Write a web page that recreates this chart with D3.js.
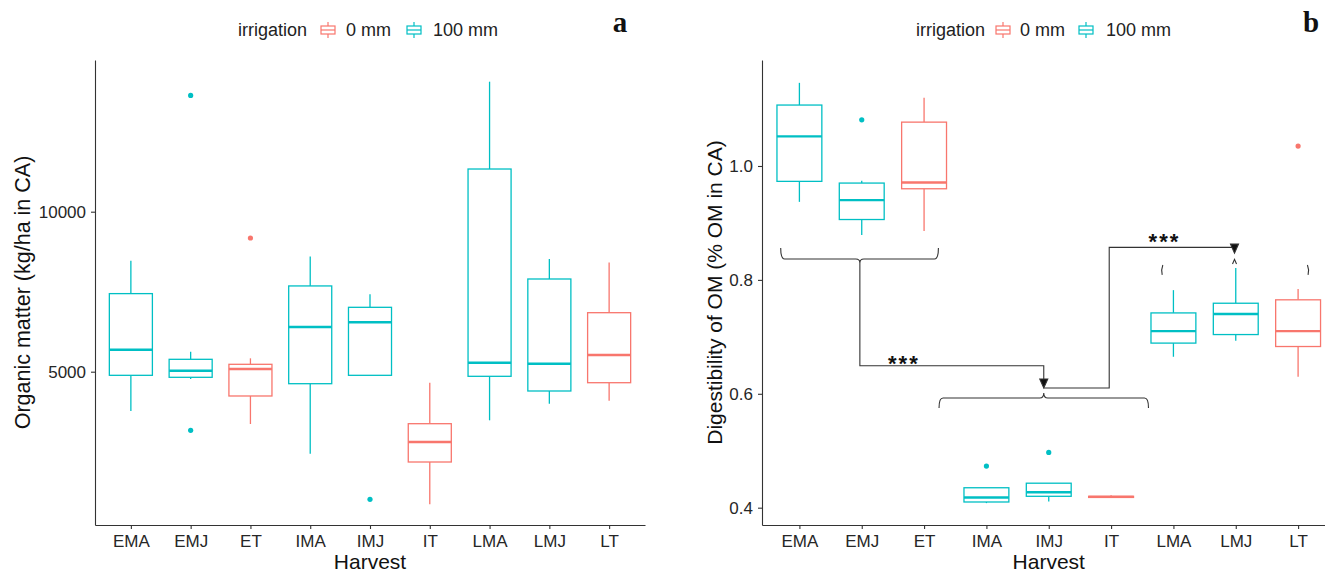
<!DOCTYPE html>
<html><head><meta charset="utf-8">
<script src="https://cdn.jsdelivr.net/npm/d3@7"></script>
<style>
body{margin:0;background:#fff}
svg{display:block}
text{font-family:"Liberation Sans",Arial,Helvetica,sans-serif}
</style>
</head><body>
<svg id="chart" width="1325" height="574"></svg>
<script>
// ---------- data ----------
const harvest = ["EMA","EMJ","ET","IMA","IMJ","IT","LMA","LMJ","LT"];
const irrigation = ["100 mm","100 mm","0 mm","100 mm","100 mm","0 mm","100 mm","100 mm","0 mm"];
const irrigationLevels = ["0 mm","100 mm"];

// panel a: Organic matter (kg/ha in CA)
const omLow  = [3772, 4772, 3366, 2438, 4887,  856, 3481, 4000, 4094];
const omQ1   = [4887, 4825, 4241, 4625, 4887, 2178, 4856, 4397, 4656];
const omMed  = [5688, 5031, 5084, 6397, 6543, 2803, 5281, 5250, 5522];
const omQ3   = [7440, 5387, 5231, 7680, 7012, 3375,11334, 7897, 6844];
const omHigh = [8469, 5625, 5418, 8603, 7420, 4656,14063, 8522, 8416];
const omOut  = [[], [13634, 3169], [9178], [], [1013], [], [], [], []];
const omTicks = [5000, 10000];

// panel b: Digestibility of OM (% OM in CA)
const dgLow  = [0.937, 0.879, 0.886, 0.408, 0.411, 0.418, 0.665, 0.693, 0.630];
const dgQ1   = [0.973, 0.906, 0.960, 0.410, 0.420, 0.418, 0.689, 0.704, 0.683];
const dgMed  = [1.052, 0.940, 0.971, 0.418, 0.427, 0.419, 0.710, 0.740, 0.710];
const dgQ3   = [1.107, 0.970, 1.077, 0.435, 0.443, 0.420, 0.742, 0.759, 0.765];
const dgHigh = [1.146, 0.974, 1.120, 0.435, 0.443, 0.422, 0.782, 0.821, 0.784];
const dgOut  = [[], [1.081], [], [0.473], [0.497], [], [], [], [1.035]];
const dgTicks = [0.4, 0.6, 0.8, 1.0];

// ---------- setup ----------
const svg = d3.select("#chart");
const color = d3.scaleOrdinal().domain(irrigationLevels).range(["#F8766D", "#00BFC4"]);
const axisCol = "#333";
const tickTextCol = "#262626";

function build(stats) {
  return harvest.map((h, i) => ({
    h, irr: irrigation[i],
    low: stats[0][i], q1: stats[1][i], med: stats[2][i], q3: stats[3][i], high: stats[4][i],
    out: stats[5][i]
  }));
}

function drawPanel(opt) {
  const g = svg.append("g");
  const x = d3.scalePoint().domain(harvest).range([opt.left, opt.right]).padding(0.6);
  const y = d3.scaleLinear().domain(opt.yDomain).range([opt.bottom, opt.top]);
  const bw = x.step() * 0.72;
  const data = build(opt.stats);

  const box = g.selectAll("g.box").data(data).join("g").attr("class", "box")
    .attr("stroke", d => color(d.irr)).attr("fill", "none");
  box.append("line").attr("x1", d => x(d.h)).attr("x2", d => x(d.h))
    .attr("y1", d => y(d.high)).attr("y2", d => y(d.q3)).attr("stroke-width", 1.3);
  box.append("line").attr("x1", d => x(d.h)).attr("x2", d => x(d.h))
    .attr("y1", d => y(d.q1)).attr("y2", d => y(d.low)).attr("stroke-width", 1.3);
  box.append("rect").attr("x", d => x(d.h) - bw / 2).attr("width", bw)
    .attr("y", d => y(d.q3)).attr("height", d => Math.max(0.1, y(d.q1) - y(d.q3)))
    .attr("fill", "#fff").attr("stroke-width", 1.3);
  box.append("line").attr("x1", d => x(d.h) - bw / 2).attr("x2", d => x(d.h) + bw / 2)
    .attr("y1", d => y(d.med)).attr("y2", d => y(d.med)).attr("stroke-width", 2.4);
  box.each(function(d) {
    d3.select(this).selectAll("circle").data(d.out).join("circle")
      .attr("cx", x(d.h)).attr("cy", v => y(v)).attr("r", 2.6)
      .attr("fill", color(d.irr)).attr("stroke", "none");
  });

  const xa = g.append("g").attr("transform", `translate(0,${opt.bottom})`)
    .call(d3.axisBottom(x).tickSize(4).tickSizeOuter(0).tickPadding(6));
  const ya = g.append("g").attr("transform", `translate(${opt.left},0)`)
    .call(d3.axisLeft(y).tickValues(opt.ticks).tickFormat(opt.fmt).tickSize(4).tickSizeOuter(0).tickPadding(5));
  [xa, ya].forEach(a => {
    a.select(".domain").attr("stroke", axisCol).attr("stroke-width", 1.1);
    a.selectAll(".tick line").attr("stroke", axisCol).attr("stroke-width", 1.1);
    a.selectAll(".tick text").attr("fill", tickTextCol).style("font-size", "17px")
      .style("font-family", '"Liberation Sans",Arial,sans-serif');
  });

  g.append("text").attr("x", (opt.left + opt.right) / 2).attr("y", 569)
    .attr("text-anchor", "middle").style("font-size", "21px").attr("fill", "#111").text("Harvest");
  g.append("text").attr("transform", `translate(${opt.yTitleX},${(opt.top + opt.bottom) / 2}) rotate(-90)`)
    .attr("text-anchor", "middle").style("font-size", opt.yTitleSize).attr("fill", "#111").text(opt.yTitle);

  const lg = g.append("g");
  lg.append("text").attr("x", opt.legX).attr("y", 30).attr("dominant-baseline", "central")
    .style("font-size", "18px").attr("fill", "#222").text("irrigation");
  irrigationLevels.forEach((lv, i) => {
    const kx = opt.legKeys[i], ky = 30, c = color(lv);
    const k = lg.append("g").attr("stroke", c).attr("fill", "none").attr("stroke-width", 1.2);
    k.append("line").attr("x1", kx).attr("x2", kx).attr("y1", ky - 8).attr("y2", ky - 4);
    k.append("line").attr("x1", kx).attr("x2", kx).attr("y1", ky + 4).attr("y2", ky + 8);
    k.append("rect").attr("x", kx - 7).attr("y", ky - 4).attr("width", 14).attr("height", 8);
    k.append("line").attr("x1", kx - 7).attr("x2", kx + 7).attr("y1", ky).attr("y2", ky);
    lg.append("text").attr("x", opt.legTexts[i]).attr("y", 30).attr("dominant-baseline", "central")
      .style("font-size", "18px").attr("fill", "#222").text(lv);
  });

  g.append("text").attr("x", opt.letterX).attr("y", 32).attr("text-anchor", "middle")
    .style("font-family", '"Liberation Serif","DejaVu Serif",serif').style("font-weight", "bold")
    .style("font-size", "29px").attr("fill", "#111").text(opt.letter);

  return {g, x, y};
}

drawPanel({
  left: 95, right: 645, top: 60, bottom: 525,
  yDomain: [209.4, 14740.6],
  stats: [omLow, omQ1, omMed, omQ3, omHigh, omOut],
  ticks: omTicks, fmt: d3.format("d"),
  yTitle: "Organic matter (kg/ha in CA)", yTitleX: 30, yTitleSize: "21.5px",
  legX: 238, legKeys: [328, 414], legTexts: [346, 433],
  letter: "a", letterX: 620
});

const pb = drawPanel({
  left: 762, right: 1335.5, top: 60, bottom: 525,
  yDomain: [0.3696, 1.1861],
  stats: [dgLow, dgQ1, dgMed, dgQ3, dgHigh, dgOut],
  ticks: dgTicks, fmt: d3.format(".1f"),
  yTitle: "Digestibility of OM (% OM in CA)", yTitleX: 722, yTitleSize: "21px",
  legX: 916, legKeys: [1003, 1086], legTexts: [1020, 1106],
  letter: "b", letterX: 1311
});

// ---------- significance annotations (panel b) ----------
const xi = d3.scaleLinear().domain([0, harvest.length - 1])
  .range([pb.x(harvest[0]), pb.x(harvest[harvest.length - 1])]);
const yb = pb.y;
const ann = pb.g.append("g").attr("stroke", "#333").attr("fill", "none").attr("stroke-width", 1.1);

function brace(x1, x2, cx, yLine, yEnd, yCusp) {
  const p = d3.path();
  p.moveTo(x1, yEnd);
  p.quadraticCurveTo(x1, yLine, x1 + 4, yLine);
  p.lineTo(cx - 4, yLine);
  p.quadraticCurveTo(cx, yLine, cx, yCusp);
  p.quadraticCurveTo(cx, yLine, cx + 4, yLine);
  p.lineTo(x2 - 4, yLine);
  p.quadraticCurveTo(x2, yLine, x2, yEnd);
  return p.toString();
}
function arrowDown(cx, tipY) {
  return `M${cx - 4},${tipY - 9}L${cx + 4},${tipY - 9}L${cx},${tipY}Z`;
}

const b1c = xi(0.97);
ann.append("path").attr("d", brace(xi(-0.3), xi(2.23), b1c, yb(0.8367), yb(0.856), yb(0.8297)));
const b2c = xi(3.92);
ann.append("path").attr("d", brace(xi(2.24), xi(5.6), b2c, yb(0.5926), yb(0.5752), yb(0.6014)));
ann.append("path").attr("d", `M${b1c},${yb(0.8297)}V${yb(0.6493)}H${b2c}V${yb(0.625)}`);
ann.append("path").attr("d", arrowDown(b2c, yb(0.6102))).attr("fill", "#111");
const xTurn = xi(4.97), b3c = xi(6.98);
ann.append("path").attr("d", `M${b2c},${yb(0.6102)}H${xTurn}V${yb(0.857)}H${b3c}`);
ann.append("path").attr("d", arrowDown(b3c, yb(0.847))).attr("fill", "#111");
ann.append("path").attr("d", `M${xi(5.83)},${yb(0.826)}Q${xi(5.80)},${yb(0.818)} ${xi(5.82)},${yb(0.8086)}`);
ann.append("path").attr("d", `M${xi(8.15)},${yb(0.826)}Q${xi(8.18)},${yb(0.818)} ${xi(8.16)},${yb(0.8086)}`);
ann.append("path").attr("d", `M${b3c - 2},${yb(0.828)}L${b3c},${yb(0.836)}L${b3c + 2},${yb(0.828)}`);

const star = pb.g.append("g").style("font-size", "22px").style("font-weight", "bold")
  .attr("fill", "#111").attr("text-anchor", "middle").style("letter-spacing", "2px");
star.append("text").attr("x", xi(1.66) + 1).attr("y", yb(0.640)).text("***");
star.append("text").attr("x", xi(5.84) + 1).attr("y", yb(0.8534)).text("***");
</script>
</body></html>
